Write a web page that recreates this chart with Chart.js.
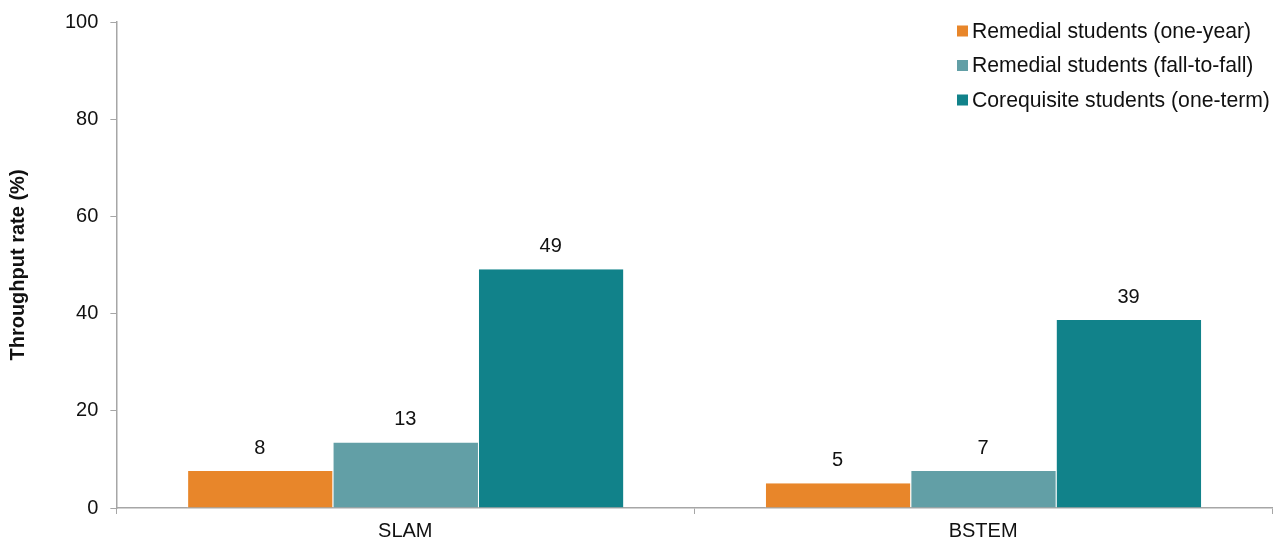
<!DOCTYPE html>
<html>
<head>
<meta charset="utf-8">
<script src="https://cdn.jsdelivr.net/npm/chart.js@4/dist/chart.umd.min.js"></script>
<style>
  html, body { margin: 0; padding: 0; background: #fff; }
  #wrap { width: 1277px; height: 544px; position: relative; }
</style>
</head>
<body>
<div id="wrap"><canvas id="throughput"></canvas></div>
<script>
  "use strict";

  // data
  var categories = ['SLAM', 'BSTEM'];
  var seriesNames = ['Remedial students (one-year)', 'Remedial students (fall-to-fall)', 'Corequisite students (one-term)'];
  var oneYear = [7.6, 5.1];
  var fallToFall = [13.5, 7.6];
  var coreq = [49.1, 38.7];
  // printed labels as shown on the chart
  var oneYearLabels = ['8', '5'];
  var fallToFallLabels = ['13', '7'];
  var coreqLabels = ['49', '39'];
  var yTicks = [0, 20, 40, 60, 80, 100];

  var colors = ['#E8862A', '#629FA6', '#11828A'];
  var font = "'Liberation Sans', Arial, sans-serif";

  // value labels above each bar
  var barLabels = {
    id: 'barLabels',
    afterDatasetsDraw: function(chart) {
      var ctx = chart.ctx;
      ctx.save();
      ctx.font = '20px ' + font;
      ctx.fillStyle = '#111';
      ctx.textAlign = 'center';
      ctx.textBaseline = 'alphabetic';
      chart.data.datasets.forEach(function(ds, i) {
        chart.getDatasetMeta(i).data.forEach(function(bar, j) {
          ctx.fillText(ds.printed[j], bar.x, bar.y - 17);
        });
      });
      ctx.restore();
    }
  };

  // vertical legend in the top right corner
  var cornerLegend = {
    id: 'cornerLegend',
    afterDraw: function(chart) {
      var ctx = chart.ctx;
      ctx.save();
      ctx.font = '21.2px ' + font;
      ctx.textBaseline = 'middle';
      ctx.textAlign = 'left';
      chart.data.datasets.forEach(function(ds, i) {
        var y = 31 + i * 34.5;
        ctx.fillStyle = ds.backgroundColor;
        ctx.fillRect(957, y - 5.5, 11, 11);
        ctx.fillStyle = '#111';
        ctx.fillText(ds.label, 972, y + 1);
      });
      ctx.restore();
    }
  };

  var makeSet = function(i, values, printed) {
    return {
      label: seriesNames[i],
      data: values,
      printed: printed,
      backgroundColor: colors[i],
      borderColor: 'rgba(255,255,255,0.55)',
      borderWidth: { left: 1, right: 0, top: 0, bottom: 0 },
      categoryPercentage: 0.755,
      barPercentage: 1
    };
  };

  new Chart(document.getElementById('throughput'), {
    type: 'bar',
    data: {
      labels: categories,
      datasets: [
        makeSet(0, oneYear, oneYearLabels),
        makeSet(1, fallToFall, fallToFallLabels),
        makeSet(2, coreq, coreqLabels)
      ]
    },
    options: {
      responsive: true,
      maintainAspectRatio: false,
      animation: false,
      layout: { padding: { top: 6, right: 5, left: 0, bottom: -4 } },
      plugins: {
        legend: { display: false },
        tooltip: { enabled: false }
      },
      scales: {
        x: {
          border: { color: '#a6a6a6', width: 1.5 },
          grid: { offset: true, drawOnChartArea: false, tickLength: 6, color: '#a6a6a6' },
          ticks: { color: '#111', font: { family: font, size: 20, lineHeight: 1 }, padding: 7 }
        },
        y: {
          min: 0,
          max: 100,
          afterBuildTicks: function(axis) {
            axis.ticks = yTicks.map(function(v) { return { value: v }; });
          },
          border: { color: '#a6a6a6', width: 1.5 },
          grid: { drawOnChartArea: false, tickLength: 6, color: '#a6a6a6' },
          ticks: { color: '#111', font: { family: font, size: 20, lineHeight: 1 }, padding: 12 },
          title: {
            display: true,
            text: 'Throughput rate (%)',
            color: '#111',
            font: { family: font, size: 20, weight: 'bold' },
            padding: { top: 6, bottom: 23 }
          }
        }
      }
    },
    plugins: [barLabels, cornerLegend]
  });
</script>
</body>
</html>
